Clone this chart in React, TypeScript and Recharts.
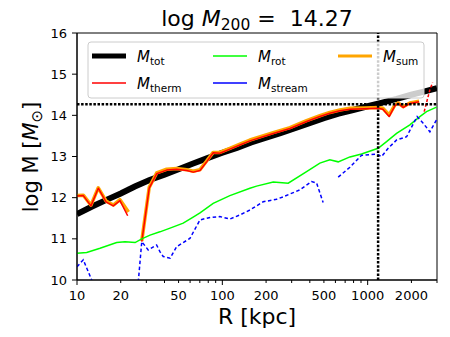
import React from 'react';
import { LineChart, Line, XAxis, YAxis, ReferenceLine, ReferenceArea } from 'recharts';

const FONT = 'DejaVu Sans';

const rTot = [10, 12.6, 15.8, 20, 25, 31.6, 40, 50, 63, 79, 100, 126, 158, 200, 251, 316, 398, 500, 631, 794, 1000, 1259, 1585, 1995, 2512, 3000];
const mTot = [11.6, 11.78, 11.94, 12.1, 12.27, 12.43, 12.56, 12.69, 12.83, 12.96, 13.09, 13.21, 13.34, 13.46, 13.57, 13.69, 13.81, 13.93, 14.04, 14.13, 14.22, 14.31, 14.4, 14.5, 14.59, 14.66];

const rTherm = [10, 11.05, 12.48, 14.01, 15.83, 17.77, 19.75, 22.32, 25, 27.9, 31.4, 35.3, 41.4, 48.5, 56.8, 63.1, 70.2, 78.0, 86.5, 96.2, 112.7, 132.1, 154.8, 224, 292, 380, 469, 549, 644, 755, 950, 1180, 1272, 1406, 1538, 1622, 1754, 1951, 2259];
const mTherm = [12.04, 12.05, 11.8, 12.23, 11.9, 11.8, 11.93, 11.56, null, 10.93, 12.23, 12.58, 12.67, 12.69, 12.66, 12.62, 12.66, 12.87, 13.09, 13.08, 13.18, 13.28, 13.38, 13.56, 13.68, 13.85, 13.97, 14.05, 14.11, 14.15, 14.16, 14.17, 14.15, 13.97, 14.23, 14.29, 14.19, 14.29, 14.33];

const rThermOuter = [2448, 2680, 2800];
const mThermOuter = [14.09, 14.62, 14.8];

const rSum = [10, 11.05, 12.48, 14.01, 15.83, 17.77, 19.75, 22.6, 25, 27.9, 31.4, 35.3, 41.4, 48.5, 56.8, 63.1, 70.2, 78.0, 86.5, 96.2, 112.7, 132.1, 154.8, 224, 292, 380, 469, 549, 644, 755, 950, 1180, 1272, 1406, 1538, 1622, 1754, 1951, 2259];
const mSum = [12.05, 12.06, 11.82, 12.24, 11.92, 11.82, 11.95, 11.65, null, 10.95, 12.25, 12.6, 12.69, 12.71, 12.68, 12.64, 12.68, 12.89, 13.1, 13.1, 13.2, 13.3, 13.4, 13.58, 13.7, 13.87, 13.99, 14.07, 14.13, 14.17, 14.18, 14.19, 14.17, 14.01, 14.25, 14.3, 14.21, 14.3, 14.34];

const rRot = [10, 11.66, 14.4, 18.75, 21.4, 25.1, 27.9, 31.8, 37.2, 43.7, 53.8, 63, 70.2, 86.5, 112.7, 154.8, 172, 224, 284, 380, 469, 549, 627, 755, 908, 1180, 1349, 1581, 1951, 2286, 2541, 2979];
const mRot = [10.65, 10.67, 10.77, 10.91, 10.93, 10.91, 11.0, 11.09, 11.17, 11.26, 11.38, 11.53, 11.63, 11.86, 12.05, 12.23, 12.28, 12.38, 12.35, 12.63, 12.84, 12.92, 12.87, 12.99, 13.06, 13.2, 13.36, 13.56, 13.77, 13.97, 14.09, 14.2];

const rStream = [10, 11.05, 12.62, 13.1, 20, 26.4, 27.9, 30.9, 35.3, 37.2, 39.2, 43.7, 48.5, 59.8, 70.2, 82.2, 96.2, 112.7, 132.1, 154.8, 191, 236, 262, 342, 411, 445, 494, 560, 627, 755, 908, 1151, 1247, 1384, 1581, 1854, 2188, 2409, 2680, 2979];
const mStream = [10.32, 10.49, 10.0, 9.7, null, 9.95, 10.93, 10.73, 10.85, 10.69, 10.57, 10.53, 10.81, 11.01, 11.46, 11.52, 11.54, 11.48, 11.58, 11.7, 11.9, 11.96, 12.02, 12.19, 12.39, 12.36, 11.88, null, 12.5, 12.74, 13.03, 13.06, 13.0, 13.2, 13.4, 13.48, 13.97, 13.81, 13.6, 13.89];

const logM200 = 14.27;
const r200 = 1180;

const xTicks = [10, 20, 30, 40, 50, 60, 70, 80, 90, 100, 200, 300, 400, 500, 600, 700, 800, 900, 1000, 2000, 3000];
const xMajor = [10, 100, 1000];
const xLabeled = [10, 20, 50, 100, 200, 500, 1000, 2000];
const yTicks = [10, 11, 12, 13, 14, 15, 16];

const zip = (rs: number[], ms: (number | null)[]) => rs.map((r, i) => ({ r, m: ms[i] }));

const totData = zip(rTot, mTot);
const thermData = zip(rTherm, mTherm);
const thermOuterData = zip(rThermOuter, mThermOuter);
const sumData = zip(rSum, mSum);
const rotData = zip(rRot, mRot);
const streamData = zip(rStream, mStream);

function XTick(props: any) {
  const { x, y, payload } = props;
  const v = payload.value;
  const len = xMajor.includes(v) ? 5 : 3;
  return (
    <g>
      <line x1={x} x2={x} y1={y} y2={y + len} stroke="#000" strokeWidth={1} />
      {xLabeled.includes(v) && (
        <text x={x} y={y + 20} textAnchor="middle" fontSize={13} fontFamily={FONT} fill="#000">
          {v}
        </text>
      )}
    </g>
  );
}

function LegendEntry({ x, y, color, width, label, sub, dash }: any) {
  return (
    <g>
      <line x1={x} x2={x + 34} y1={y} y2={y} stroke={color} strokeWidth={width} strokeDasharray={dash} />
      <text x={x + 45} y={y + 5.5} fontFamily={FONT} fontSize={15} fill="#000">
        <tspan fontStyle="italic">{label}</tspan>
        <tspan fontSize={10.5} dy={3}>{sub}</tspan>
      </text>
    </g>
  );
}

export default function App() {
  return (
    <div style={{ position: 'absolute', left: 0, top: 0, width: 450, height: 337, background: '#fff' }}>
      <LineChart width={450} height={337} margin={{ top: 33, right: 13, left: 17, bottom: 27 }}>
        <XAxis
          dataKey="r"
          type="number"
          scale="log"
          domain={[10, 3000]}
          allowDataOverflow
          ticks={xTicks}
          interval={0}
          tickLine={false}
          tickSize={0}
          tickMargin={0}
          height={30}
          stroke="#000"
          tick={<XTick />}
        />
        <YAxis
          type="number"
          domain={[10, 16]}
          allowDataOverflow
          ticks={yTicks}
          interval={0}
          width={60}
          tickSize={5}
          tickMargin={5}
          stroke="#000"
          tick={{ fill: '#000', fontSize: 13, fontFamily: FONT }}
        />
        <ReferenceArea x1={10} x2={3000} y1={10} y2={16} fill="none" stroke="#000" strokeWidth={1} />
        <Line data={totData} dataKey="m" stroke="#000" strokeWidth={6} dot={false} isAnimationActive={false} />
        <Line data={sumData} dataKey="m" stroke="#ffa500" strokeWidth={3.5} dot={false} isAnimationActive={false} connectNulls={false} strokeLinejoin="round" />
        <Line data={thermData} dataKey="m" stroke="#ff0000" strokeWidth={1.5} dot={false} isAnimationActive={false} connectNulls={false} strokeLinejoin="round" />
        <Line data={thermOuterData} dataKey="m" stroke="#ff0000" strokeWidth={1.5} strokeDasharray="3 2" dot={false} isAnimationActive={false} />
        <Line data={rotData} dataKey="m" stroke="#00ff00" strokeWidth={1.5} dot={false} isAnimationActive={false} />
        <Line data={streamData} dataKey="m" stroke="#0000ff" strokeWidth={1.5} strokeDasharray="3.5 2.5" dot={false} isAnimationActive={false} connectNulls={false} />
        <ReferenceLine y={logM200} stroke="#000" strokeWidth={2.5} strokeDasharray="2.5 1.6" />
        <ReferenceLine x={r200} stroke="#000" strokeWidth={2.5} strokeDasharray="2.5 1.6" />
      </LineChart>
      <svg width={450} height={337} style={{ position: 'absolute', left: 0, top: 0, pointerEvents: 'none' }}>
        <text x={257} y={26} textAnchor="middle" fontFamily={FONT} fontSize={22} fill="#000" style={{ whiteSpace: 'pre' }}>
          <tspan>log </tspan>
          <tspan fontStyle="italic">M</tspan>
          <tspan fontSize={15.5} dy={4}>200</tspan>
          <tspan dy={-4}>{' =  14.27'}</tspan>
        </text>
        <text x={257} y={324} textAnchor="middle" fontFamily={FONT} fontSize={22} fill="#000">
          R [kpc]
        </text>
        <text transform="translate(38,157) rotate(-90)" textAnchor="middle" fontFamily={FONT} fontSize={21} fill="#000">
          <tspan>log M [</tspan>
          <tspan fontStyle="italic">M</tspan>
          <tspan fontSize={15} dy={4}>⊙</tspan>
          <tspan dy={-4}>]</tspan>
        </text>
        <rect x={88} y={42} width={336} height={56} rx={3} fill="#fff" fillOpacity={0.8} stroke="#cccccc" strokeWidth={1} />
        <LegendEntry x={92} y={56} color="#000" width={5} label="M" sub="tot" />
        <LegendEntry x={92} y={83} color="#ff0000" width={1.5} label="M" sub="therm" />
        <LegendEntry x={213} y={56} color="#00ff00" width={1.5} label="M" sub="rot" />
        <LegendEntry x={213} y={83} color="#0000ff" width={1.5} label="M" sub="stream" />
        <LegendEntry x={338} y={56} color="#ffa500" width={3} label="M" sub="sum" />
      </svg>
    </div>
  );
}
